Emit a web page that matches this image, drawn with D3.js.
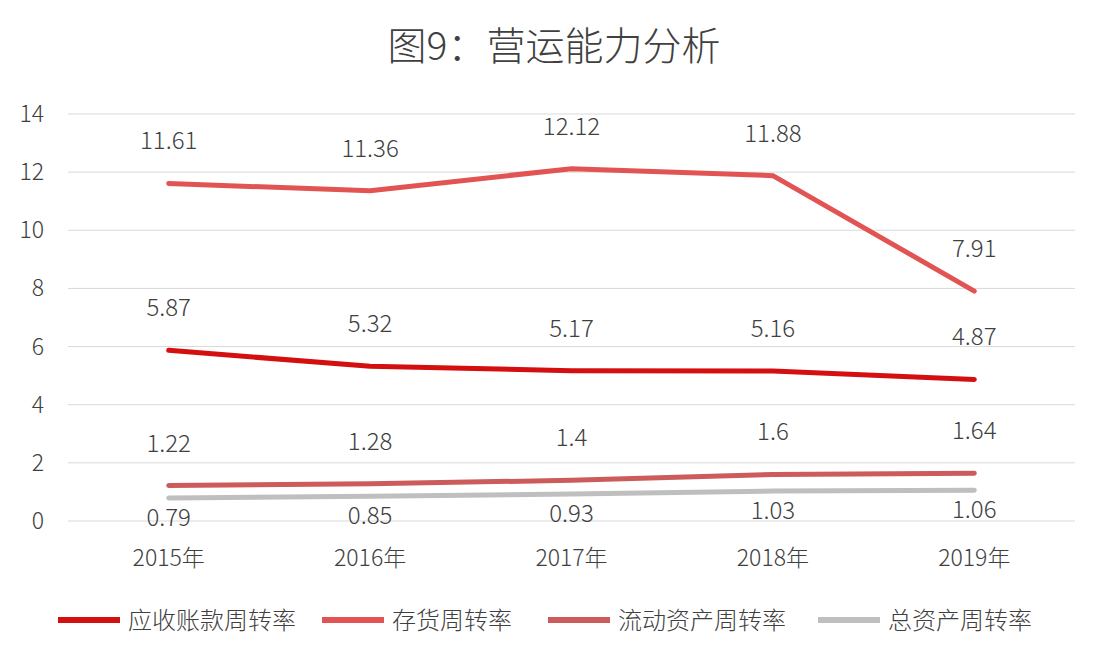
<!DOCTYPE html>
<html><head><meta charset="utf-8">
<script src="https://cdn.jsdelivr.net/npm/d3@7"></script>
<style>body{margin:0;background:#fff;font-family:"Noto Sans CJK SC","Noto Sans",sans-serif;}</style>
</head><body><svg id="c" width="1108" height="658"></svg>
<script>
const years = ["2015年","2016年","2017年","2018年","2019年"];
const receivable = [5.87,5.32,5.17,5.16,4.87];
const inventory = [11.61,11.36,12.12,11.88,7.91];
const current = [1.22,1.28,1.4,1.6,1.64];
const total = [0.79,0.85,0.93,1.03,1.06];
const yTicks = [0,2,4,6,8,10,12,14];

const series = [
  {name:"应收账款周转率", values:receivable, color:"#d40f0f", dy:-34},
  {name:"存货周转率", values:inventory, color:"#e25454", dy:-34},
  {name:"流动资产周转率", values:current, color:"#cc5b5b", dy:-34},
  {name:"总资产周转率", values:total, color:"#bfbfbf", dy:28}
];

const svg = d3.select("#c");
const x = d3.scalePoint().domain(years).range([68,1075]).padding(0.5);
const y = d3.scaleLinear().domain([0,14]).range([521,114]);

svg.append("text").attr("x",554).attr("y",60).attr("text-anchor","middle")
  .attr("font-size",39).attr("font-weight",300).attr("fill","#404040").text("图9：营运能力分析");

svg.append("g").selectAll("line").data(yTicks).join("line")
  .attr("x1",68).attr("x2",1075).attr("y1",d=>y(d)).attr("y2",d=>y(d))
  .attr("stroke","#d9d9d9").attr("stroke-width",1);
svg.append("g").selectAll("text").data(yTicks).join("text")
  .attr("x",44).attr("y",d=>y(d)+8).attr("text-anchor","end")
  .attr("font-size",23).attr("font-weight",300).attr("fill","#404040").text(d=>d);
svg.append("g").selectAll("text").data(years).join("text")
  .attr("x",d=>x(d)).attr("y",566).attr("text-anchor","middle")
  .attr("font-size",23).attr("font-weight",300).attr("fill","#404040").text(d=>d);

const line = d3.line().x((d,i)=>x(years[i])).y(d=>y(d));
series.forEach(s=>{
  svg.append("path").datum(s.values).attr("d",line).attr("fill","none")
    .attr("stroke",s.color).attr("stroke-width",5).attr("stroke-linecap","round");
  svg.append("g").selectAll("text").data(s.values).join("text")
    .attr("x",(d,i)=>x(years[i])).attr("y",d=>y(d)+s.dy)
    .attr("text-anchor","middle").attr("font-size",24).attr("font-weight",300).attr("fill","#404040").text(d=>d);
});

const legX = [58,322,548,818];
series.forEach((s,i)=>{
  const g = svg.append("g").attr("transform",`translate(${legX[i]},620)`);
  g.append("line").attr("x1",0).attr("x2",62).attr("stroke",s.color).attr("stroke-width",6);
  g.append("text").attr("x",70).attr("y",9).attr("font-size",24).attr("font-weight",300).attr("fill","#404040").text(s.name);
});
</script></body></html>
